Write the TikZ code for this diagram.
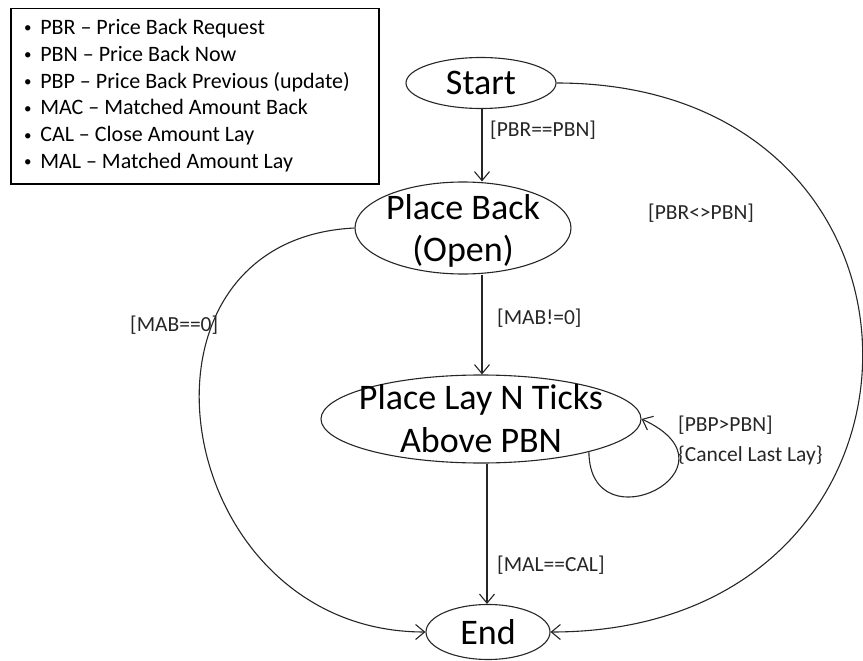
\documentclass[tikz,border=0pt]{standalone}
\usepackage{fontspec}
\setmainfont{Carlito}
\usetikzlibrary{shapes.geometric,arrows.meta}
\newcommand{\puce}{\raisebox{1.5pt}{\fontsize{15}{15}\selectfont\textbullet}\ \,}
\begin{document}
\begin{tikzpicture}[
    x=1pt, y=-1pt,  % coordonnées en pixels, y vers le bas
    etat/.style={draw=black!85, line width=1.1pt, ellipse, inner sep=-40pt,
      align=center, font=\fontsize{36}{43}\selectfont},
    garde/.style={anchor=west, inner sep=0pt, text=black!85,
      font=\fontsize{21.5}{30}\selectfont, align=left},
    fleche/.style={draw=black!85, line width=1.1pt,
      -{Straight Barb[length=9pt,width=15pt,line width=1.1pt]}}
]
\useasboundingbox (0,0) rectangle (863,661);
% Légende
\node[draw, line width=1.5pt, anchor=north west, minimum width=368pt,
  minimum height=175pt, inner sep=0pt] (legende) at (10,8) {};
\node[anchor=north west, inner sep=0pt, align=left,
  font=\fontsize{22}{26.8}\selectfont] (abbrev) at (24,19)
  {\puce PBR -- Price Back Request\\
   \puce PBN -- Price Back Now\\
   \puce PBP -- Price Back Previous (update)\\
   \puce MAC -- Matched Amount Back\\
   \puce CAL -- Close Amount Lay\\
   \puce MAL -- Matched Amount Lay};
% Etats
\node[etat, minimum width=150pt, minimum height=51pt] (start) at (481,83) {Start};
\node[etat, minimum width=216pt, minimum height=92pt, text depth=0pt] (back) at (463,228) {Place Back\\(Open)};
\node[etat, minimum width=320pt, minimum height=88pt] (lay) at (481,419) {Place Lay N Ticks\\Above PBN};
\node[etat, minimum width=124pt, minimum height=55pt] (end) at (488,632) {End};
% Transitions
\draw[fleche] (start.south -| 482,0) -- (back.north -| 482,0);
\draw[fleche] (back.south -| 482,0) -- (lay.north -| 482,0);
\draw[fleche] (lay.south -| 487,0) -- (end.north -| 487,0);
\draw[fleche] (back.west) .. controls (110,240) and (170,632) .. (end.west);
\draw[fleche] (start.east) .. controls (968,83) and (963,632) .. (end.east);
\draw[fleche] (lay.-17) .. controls (590,548) and (748,468) .. (lay.east);
% Gardes
\node[garde] (g1) at (490,130) {[PBR==PBN]};
\node[garde] (g2) at (497,318) {[MAB!=0]};
\node[garde] (g3) at (497,565) {[MAL==CAL]};
\node[garde] (g4) at (130,325) {[MAB==0]};
\node[garde] (g5) at (648,213) {[PBR<>PBN]};
\node[garde, anchor=north west] (g6) at (678,416) {[PBP>PBN]\\\{Cancel Last Lay\}};
\end{tikzpicture}
\end{document}
